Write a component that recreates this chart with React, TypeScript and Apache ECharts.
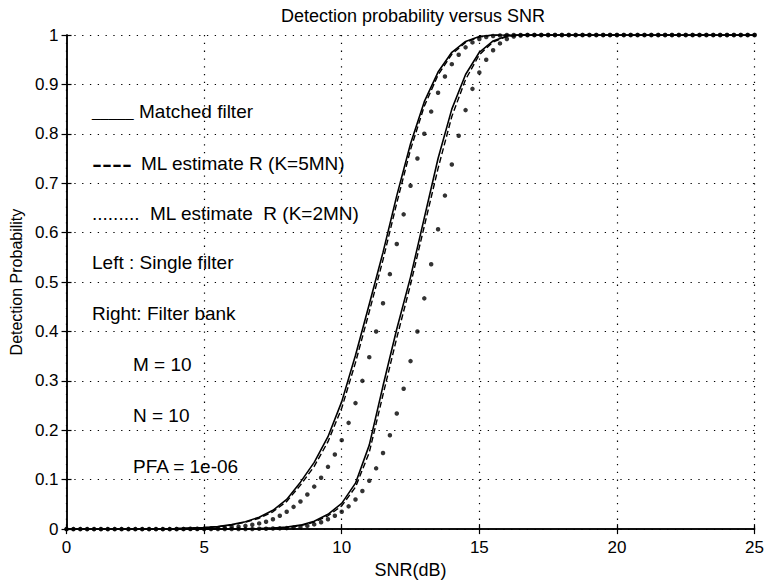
import React, { useEffect, useRef } from "react";
import * as echarts from "echarts";

// SNR grid for solid/dashed curves (dB)
const lineSnr = [0, 3, 4, 4.5, 5, 5.5, 6, 6.5, 7, 7.5, 8, 8.5, 9, 9.5, 10, 10.5, 11, 11.5, 12, 12.5, 13, 13.5, 14, 14.5, 15, 15.5, 16, 16.5, 25];

// Left: single filter
const leftMatched = [0, 0, 0.001, 0.002, 0.003, 0.005, 0.009, 0.015, 0.024, 0.038, 0.06, 0.095, 0.135, 0.187, 0.258, 0.352, 0.455, 0.56, 0.675, 0.78, 0.865, 0.925, 0.965, 0.987, 0.997, 1, 1, 1, 1];
const leftK5 = [0, 0, 0.001, 0.002, 0.003, 0.005, 0.008, 0.014, 0.022, 0.035, 0.056, 0.089, 0.127, 0.177, 0.245, 0.337, 0.44, 0.545, 0.66, 0.768, 0.856, 0.919, 0.961, 0.985, 0.996, 1, 1, 1, 1];
// Right: filter bank
const rightMatched = [0, 0, 0, 0, 0, 0, 0, 0.0005, 0.001, 0.002, 0.004, 0.008, 0.016, 0.03, 0.052, 0.093, 0.17, 0.29, 0.405, 0.51, 0.63, 0.75, 0.85, 0.92, 0.965, 0.988, 0.998, 1, 1];
const rightK5 = [0, 0, 0, 0, 0, 0, 0, 0.0004, 0.001, 0.002, 0.003, 0.007, 0.014, 0.027, 0.047, 0.085, 0.155, 0.272, 0.387, 0.495, 0.613, 0.73, 0.835, 0.91, 0.96, 0.986, 0.997, 1, 1];

// SNR grid for the dotted (K=2MN) curves
const dotSnr = [0, 0.25, 0.5, 0.75, 1, 1.25, 1.5, 1.75, 2, 2.25, 2.5, 2.75, 3, 3.25, 3.5, 3.75, 4, 4.25, 4.5, 4.75, 5, 5.25, 5.5, 5.75, 6, 6.25, 6.5, 6.75, 7, 7.25, 7.5, 7.75, 8, 8.25, 8.5, 8.75, 9, 9.25, 9.5, 9.75, 10, 10.25, 10.5, 10.75, 11, 11.25, 11.5, 11.75, 12, 12.25, 12.5, 12.75, 13, 13.25, 13.5, 13.75, 14, 14.25, 14.5, 14.75, 15, 15.25, 15.5, 15.75, 16, 16.25, 16.5, 16.75, 17, 17.25, 17.5, 17.75, 18, 18.25, 18.5, 18.75, 19, 19.25, 19.5, 19.75, 20, 20.25, 20.5, 20.75, 21, 21.25, 21.5, 21.75, 22, 22.25, 22.5, 22.75, 23, 23.25, 23.5, 23.75, 24, 24.25, 24.5, 24.75, 25];
const leftK2 = [
  0, 0, 0, 0, 0, 0, 0, 0, 0, 0, 0, 0, 0, 0, 0, 0,
  0.0003, 0.0004, 0.0006, 0.0008, 0.001, 0.0014, 0.002, 0.0027, 0.0036, 0.005, 0.0066, 0.0088,
  0.0115, 0.015, 0.02, 0.027, 0.035, 0.045, 0.056, 0.07, 0.086, 0.104, 0.126, 0.151,
  0.18, 0.215, 0.255, 0.3, 0.348, 0.4, 0.457, 0.516, 0.577, 0.637, 0.695, 0.75,
  0.8, 0.845, 0.883, 0.916, 0.941, 0.96, 0.975, 0.985, 0.992, 0.996, 0.998, 0.999,
  1, 1, 1, 1, 1, 1, 1, 1, 1, 1, 1, 1, 1, 1, 1, 1, 1, 1, 1, 1, 1, 1, 1, 1, 1, 1, 1, 1, 1, 1, 1, 1, 1, 1, 1, 1, 1
];
const rightK2 = [
  0, 0, 0, 0, 0, 0, 0, 0, 0, 0, 0, 0, 0, 0, 0, 0, 0, 0, 0, 0, 0, 0, 0, 0, 0, 0, 0, 0,
  0.0006, 0.0008, 0.0011, 0.0015, 0.002, 0.003, 0.0045, 0.0065, 0.0095, 0.014, 0.02, 0.027,
  0.035, 0.046, 0.06, 0.077, 0.098, 0.123, 0.154, 0.19, 0.234, 0.284, 0.34, 0.4,
  0.467, 0.536, 0.607, 0.675, 0.738, 0.796, 0.848, 0.891, 0.924, 0.95, 0.969, 0.983,
  0.992, 0.997, 0.999,
  1, 1, 1, 1, 1, 1, 1, 1, 1, 1, 1, 1, 1, 1, 1, 1, 1, 1, 1, 1, 1, 1, 1, 1, 1, 1, 1, 1, 1, 1, 1, 1, 1, 1
];

// [line-style prefix, label text]
const legendPrefixes = ["_____ ", "---- ", "......... "];
const legendLabels = ["Matched filter", "ML estimate R (K=5MN)", "ML estimate  R (K=2MN)"];
const notes = ["Left : Single filter", "Right: Filter bank", "M = 10", "N = 10", "PFA = 1e-06"];

const FONT = '"Liberation Sans", Arial, Helvetica, sans-serif';

const pair = (xs: number[], ys: number[]) => xs.map((x, i) => [x, ys[i]]);

export default function App() {
  const ref = useRef<HTMLDivElement>(null);
  useEffect(() => {
    if (!ref.current) return;
    const chart = echarts.init(ref.current, undefined, { renderer: "svg" });
    const solid = { color: "#000", width: 1.6, type: "solid" as const };
    const dashed = { color: "#000", width: 1.4, type: [6, 3] as any };
    const gridLine = { show: true, lineStyle: { color: "#000", width: 1.2, type: [1.3, 6.5] as any } };
    const axisLine = { show: true, lineStyle: { color: "#000", width: 1.5 } };
    const tick = { show: true, inside: true, length: 5, lineStyle: { color: "#000", width: 1.2 } };
    const legY = [111, 163, 213];
    const prefixWidth = [47, 49, 58];
    const prefixSize = [15, 30, 19];
    const noteX = [92, 92, 133, 133, 133];
    const noteY = [262, 313, 364, 415, 466];
    const graphics: any[] = [];
    legendLabels.forEach((lab, i) => {
      graphics.push({
        type: "text",
        x: 92,
        y: legY[i],
        z: 10,
        style: {
          text: `{p|${legendPrefixes[i]}}{t|${lab}}`,
          verticalAlign: "middle",
          align: "left",
          fill: "#000",
          rich: {
            p: { fontFamily: FONT, fontSize: prefixSize[i], width: prefixWidth[i], fill: "#000", verticalAlign: "middle" },
            t: { fontFamily: FONT, fontSize: 19, fill: "#000", verticalAlign: "middle" },
          },
        },
      });
    });
    notes.forEach((t, i) => {
      graphics.push({
        type: "text",
        x: noteX[i],
        y: noteY[i],
        z: 10,
        style: { text: t, fontFamily: FONT, fontSize: 19, fill: "#000", verticalAlign: "middle", align: "left" },
      });
    });
    chart.setOption({
      animation: false,
      backgroundColor: "#fff",
      title: {
        text: "Detection probability versus SNR",
        left: 413,
        textAlign: "center",
        top: 7,
        padding: 0,
        textStyle: { fontFamily: FONT, fontSize: 18, fontWeight: "normal", color: "#000" },
      },
      grid: { left: 63, right: 9, top: 35, bottom: 46, containLabel: false },
      xAxis: [
        {
          type: "value", min: 0, max: 25, interval: 5,
          name: "SNR(dB)", nameLocation: "middle", nameGap: 28,
          nameTextStyle: { fontFamily: FONT, fontSize: 18, color: "#000" },
          axisLine, axisTick: tick, splitLine: gridLine,
          axisLabel: { fontFamily: FONT, fontSize: 17, color: "#000", margin: 10 },
        },
        {
          type: "value", min: 0, max: 25, interval: 5, position: "top",
          axisLine, axisTick: tick, splitLine: { show: false }, axisLabel: { show: false },
        },
      ],
      yAxis: [
        {
          type: "value", min: 0, max: 1, interval: 0.1,
          name: "Detection Probability", nameLocation: "middle", nameGap: 37,
          nameTextStyle: { fontFamily: FONT, fontSize: 16, color: "#000" },
          axisLine, axisTick: tick, splitLine: gridLine,
          axisLabel: {
            fontFamily: FONT, fontSize: 17, color: "#000", margin: 8,
            formatter: (v: number) => String(Math.round(v * 10) / 10),
          },
        },
        {
          type: "value", min: 0, max: 1, interval: 0.1, position: "right",
          axisLine, axisTick: tick, splitLine: { show: false }, axisLabel: { show: false },
        },
      ],
      series: [
        { type: "line", data: pair(lineSnr, leftMatched), symbol: "none", lineStyle: solid, z: 3 },
        { type: "line", data: pair(lineSnr, leftK5), symbol: "none", lineStyle: dashed, z: 3 },
        { type: "line", data: pair(lineSnr, rightMatched), symbol: "none", lineStyle: solid, z: 3 },
        { type: "line", data: pair(lineSnr, rightK5), symbol: "none", lineStyle: dashed, z: 3 },
        { type: "scatter", data: pair(dotSnr, leftK2), symbol: "circle", symbolSize: 4.5, itemStyle: { color: "#000" }, clip: false, z: 4 },
        { type: "scatter", data: pair(dotSnr, rightK2), symbol: "circle", symbolSize: 4.5, itemStyle: { color: "#000" }, clip: false, z: 4 },
      ],
      graphic: graphics,
    });
    return () => chart.dispose();
  }, []);
  return <div ref={ref} style={{ position: "fixed", left: 0, top: 0, width: 767, height: 584, background: "#fff" }} />;
}
